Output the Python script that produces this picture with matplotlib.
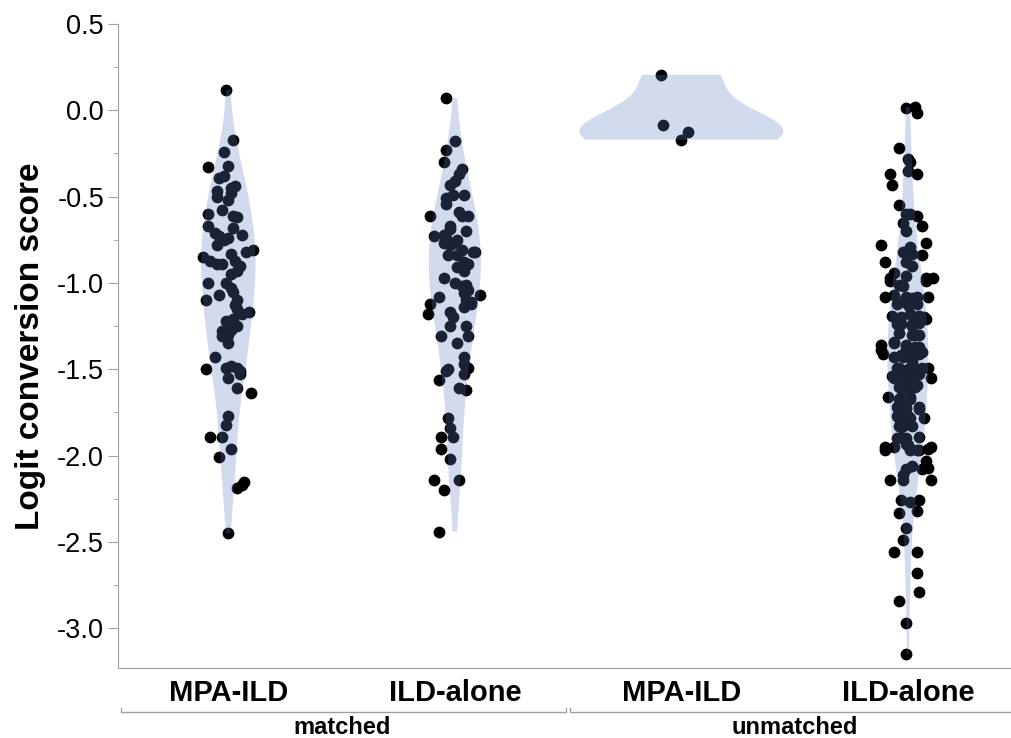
import matplotlib.pyplot as plt
from matplotlib import transforms

plt.rcParams['font.family'] = ['Liberation Sans', 'DejaVu Sans']

groups = ["matched", "unmatched"]
tick_labels = ["MPA-ILD", "ILD-alone", "MPA-ILD", "ILD-alone"]

# matched / MPA-ILD
mpa_m_y = [0.12, -0.17, -0.24, -0.33, -0.32, -0.38, -0.39, -0.44, -0.45, -0.47, -0.50, -0.48, -0.52,
           -0.58, -0.60, -0.61, -0.62, -0.67, -0.68, -0.71, -0.73, -0.74, -0.75, -0.72, -0.78, -0.81,
           -0.82, -0.83, -0.85, -0.87, -0.89, -0.89, -0.87, -0.90, -0.95, -0.93, -1.00, -1.00, -1.03,
           -1.07, -1.05, -1.10, -1.10, -1.13, -1.15, -1.18, -1.17, -1.21, -1.25, -1.28, -1.22, -1.30,
           -1.27, -1.31, -1.35, -1.43, -1.50, -1.49, -1.48, -1.49, -1.51, -1.53, -1.55, -1.61, -1.64,
           -1.77, -1.82, -1.89, -1.89, -1.96, -2.01, -2.15, -2.17, -2.19, -2.45]
mpa_m_dx = [-0.01, 0.02, -0.02, -0.09, 0.00, -0.02, -0.04, 0.03, 0.01, -0.05, -0.05, 0.01, 0.00,
            -0.03, -0.09, 0.02, 0.04, -0.09, 0.02, -0.06, -0.04, 0.00, -0.02, 0.06, -0.05, 0.11,
            0.08, 0.01, -0.11, -0.08, -0.05, -0.03, 0.03, 0.05, 0.01, 0.04, -0.09, -0.01, 0.01,
            -0.04, 0.02, 0.04, -0.10, 0.03, 0.04, 0.06, 0.09, 0.02, 0.04, -0.03, -0.01, 0.00,
            0.01, -0.03, 0.00, -0.06, -0.10, -0.01, 0.01, 0.04, 0.05, 0.05, 0.00, 0.04, 0.10,
            0.00, -0.01, -0.08, -0.03, 0.01, -0.04, 0.07, 0.06, 0.04, 0.00]

# matched / ILD-alone
ild_m_y = [0.07, -0.18, -0.23, -0.30, -0.34, -0.37, -0.41, -0.43, -0.49, -0.51, -0.54, -0.49, -0.61,
           -0.59, -0.61, -0.61, -0.67, -0.69, -0.73, -0.72, -0.74, -0.70, -0.75, -0.77, -0.77, -0.78,
           -0.81, -0.84, -0.82, -0.82, -0.84, -0.88, -0.89, -0.91, -0.93, -0.97, -1.00, -1.02, -1.01,
           -1.04, -1.07, -1.08, -1.12, -1.06, -1.10, -1.11, -1.18, -1.17, -1.20, -1.25, -1.14, -1.12,
           -1.25, -1.31, -1.31, -1.35, -1.43, -1.47, -1.49, -1.53, -1.50, -1.51, -1.56, -1.61, -1.62,
           -1.78, -1.84, -1.89, -1.89, -1.96, -2.02, -2.14, -2.14, -2.20, -2.44]
ild_m_dx = [-0.04, 0.00, -0.04, -0.05, 0.03, 0.02, 0.00, -0.02, -0.01, -0.04, -0.04, 0.04, -0.11,
            0.02, 0.03, 0.06, -0.02, -0.02, -0.09, -0.05, -0.04, 0.05, 0.01, 0.00, -0.05, -0.02,
            0.03, 0.01, 0.09, 0.08, -0.03, 0.04, 0.06, 0.01, 0.04, -0.05, 0.00, 0.03, 0.05,
            0.06, 0.11, -0.07, -0.11, 0.04, 0.05, 0.07, -0.12, -0.02, -0.01, -0.02, 0.04, 0.07,
            0.05, -0.06, 0.06, 0.01, 0.04, 0.04, 0.06, 0.04, -0.03, -0.04, -0.07, 0.02, 0.05,
            -0.03, -0.02, -0.01, -0.06, -0.06, -0.02, -0.09, 0.02, -0.05, -0.07]

# unmatched / MPA-ILD
mpa_u_y = [0.205, -0.084, -0.124, -0.17]
mpa_u_dx = [-0.09, -0.08, 0.03, 0.00]

# unmatched / ILD-alone
ild_u_y = [0.016, 0.02, -0.018, -0.22, -0.28, -0.30, -0.37, -0.43, -0.35, -0.37, -0.55, -0.60, -0.60,
           -0.61, -0.65, -0.70, -0.67, -0.78, -0.77, -0.79, -0.82, -0.83, -0.84, -0.88, -0.88, -0.90,
           -0.94, -0.97, -0.96, -0.97, -0.97, -1.01, -0.99, -0.99, -1.08, -1.07, -1.08, -1.08, -1.08,
           -1.12, -1.11, -1.19, -1.20, -1.18, -1.19, -1.21, -1.24, -1.24, -1.23, -1.29, -1.30, -1.30,
           -1.36, -1.39, -1.41, -1.35, -1.37, -1.37, -1.40, -1.43, -1.43, -1.45, -1.49, -1.50, -1.49,
           -1.49, -1.55, -1.55, -1.53, -1.55, -1.60, -1.61, -1.60, -1.66, -1.66, -1.67, -1.73, -1.73,
           -1.73, -1.78, -1.78, -1.78, -1.83, -1.83, -1.89, -1.89, -1.95, -1.95, -1.94, -1.95, -1.97,
           -1.93, -1.96, -1.97, -1.96, -2.03, -2.07, -2.08, -2.08, -2.06, -2.11, -2.14, -2.14, -2.14,
           -2.26, -2.27, -2.26, -2.33, -2.32, -2.42, -2.49, -2.56, -2.56, -2.68, -2.79, -2.84, -2.97,
           -3.15,
           -1.02, -1.09, -1.13, -1.12, -1.12, -1.20, -1.20, -1.24, -1.25, -1.30, -1.34, -1.36, -1.37,
           -1.42, -1.42, -1.41, -1.49, -1.49, -1.54, -1.54, -1.55, -1.60, -1.59, -1.67, -1.66, -1.72,
           -1.72, -1.72, -1.77, -1.77, -1.83, -1.90, -1.90, -1.97, -1.97]
ild_u_dx = [-0.01, 0.03, 0.04, -0.04, 0.00, 0.01, -0.08, -0.07, 0.00, 0.04, -0.04, -0.01, 0.01,
            0.04, -0.02, -0.01, 0.06, -0.12, 0.08, 0.01, -0.02, 0.02, 0.06, -0.10, -0.01, 0.02,
            -0.06, -0.08, -0.01, 0.08, 0.11, -0.04, -0.08, 0.08, -0.10, -0.06, 0.09, -0.01, 0.04,
            0.01, -0.04, -0.07, -0.03, 0.01, 0.05, 0.08, -0.03, 0.02, 0.05, -0.04, 0.03, 0.05,
            -0.12, -0.12, -0.11, -0.06, -0.01, 0.05, 0.06, -0.06, -0.02, 0.02, -0.04, 0.00, 0.06,
            0.09, -0.06, -0.01, 0.05, 0.10, -0.04, 0.00, 0.03, -0.09, -0.03, 0.01, -0.04, -0.01,
            0.05, -0.04, 0.01, 0.07, -0.02, 0.02, -0.03, 0.05, -0.10, -0.06, 0.00, 0.10, -0.10,
            -0.01, 0.01, 0.05, 0.09, 0.08, 0.09, 0.06, -0.01, 0.02, -0.02, -0.08, -0.02, 0.10,
            -0.03, 0.01, 0.05, -0.04, 0.04, -0.01, -0.02, -0.06, 0.04, 0.04, 0.05, -0.04, -0.01,
            -0.01,
            -0.02, 0.02, 0.00, 0.04, -0.05, 0.03, 0.07, -0.05, 0.02, 0.02, -0.06, -0.01, 0.03,
            -0.03, 0.01, 0.05, -0.05, 0.03, -0.07, -0.03, 0.02, 0.00, 0.04, -0.04, 0.01, -0.05,
            -0.01, 0.05, -0.05, 0.00, -0.04, -0.05, -0.01, 0.01, 0.04]

all_y = [mpa_m_y, ild_m_y, mpa_u_y, ild_u_y]
all_dx = [mpa_m_dx, ild_m_dx, mpa_u_dx, ild_u_dx]
positions = [0, 1, 2, 3]

fig = plt.figure(figsize=(10.11, 7.38), dpi=100)
ax = fig.add_axes([0.1167, 0.0949, 0.8833, 0.8726])

for pos, ys, dxs in zip(positions, all_y, all_dx):
    ax.scatter([pos + d for d in dxs], ys, s=72, color='black', linewidths=0, zorder=2)

vp = ax.violinplot(all_y, positions=positions, widths=[0.24, 0.23, 0.9, 0.18],
                   showextrema=False)
for body in vp['bodies']:
    body.set_facecolor('#5f7dc3')
    body.set_edgecolor('none')
    body.set_alpha(0.28)
    body.set_zorder(3)

ax.set_xlim(-0.487, 3.455)
ax.set_ylim(-3.23, 0.5)
ax.set_yticks([0.5, 0.0, -0.5, -1.0, -1.5, -2.0, -2.5, -3.0])
ax.set_yticklabels(['0.5', '0.0', '-0.5', '-1.0', '-1.5', '-2.0', '-2.5', '-3.0'])
ax.set_yticks([0.25, -0.25, -0.75, -1.25, -1.75, -2.25, -2.75], minor=True)
ax.set_xticks(positions)
ax.set_xticklabels(tick_labels, fontsize=21, fontweight='bold')
ax.tick_params(axis='x', length=0, pad=8)
ax.tick_params(axis='y', which='major', length=7, color='#a0a0a0', labelsize=19.5, pad=3)
ax.tick_params(axis='y', which='minor', length=3.5, color='#a0a0a0')
for side in ['top', 'right']:
    ax.spines[side].set_visible(False)
for side in ['left', 'bottom']:
    ax.spines[side].set_color('#a0a0a0')
ax.set_ylabel('Logit conversion score', fontsize=24, fontweight='bold', labelpad=8)

# group brackets below the category labels
trans = transforms.blended_transform_factory(ax.transData, ax.transAxes)
for name, x0, x1, xc in [(groups[0], -0.475, 1.49, 0.5), (groups[1], 1.51, 3.6, 2.5)]:
    ax.plot([x0, x0, x1, x1], [-0.062, -0.068, -0.068, -0.062], color='#a0a0a0', lw=1,
            transform=trans, clip_on=False)
    ax.text(xc, -0.092, name, transform=trans, ha='center', va='center',
            fontsize=17, fontweight='bold')

fig.savefig('out.png', dpi=100)
